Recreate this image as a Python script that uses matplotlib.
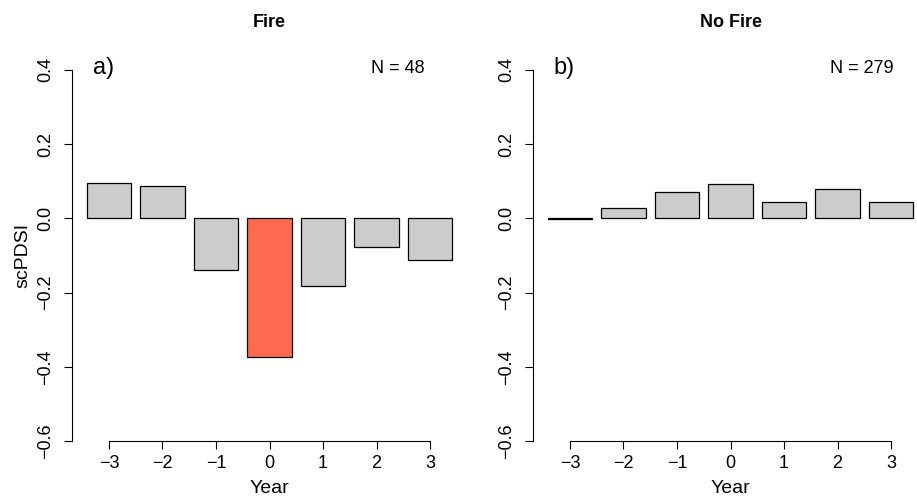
import matplotlib.pyplot as plt
import numpy as np

plt.rcParams["font.family"] = ["Liberation Sans", "DejaVu Sans"]

years = [-3, -2, -1, 0, 1, 2, 3]
fire = [0.096, 0.088, -0.138, -0.374, -0.181, -0.077, -0.112]
no_fire = [-0.002, 0.027, 0.071, 0.092, 0.043, 0.079, 0.043]
fire_colors = ["#cccccc", "#cccccc", "#cccccc", "#ff6b4f", "#cccccc", "#cccccc", "#cccccc"]
no_fire_colors = ["#cccccc"] * 7
titles = ["Fire", "No Fire"]
panel_labels = ["a)", "b)"]
n_labels = ["N = 48", "N = 279"]
n_x = [2.9, 3.04]
y_ticks = [-0.6, -0.4, -0.2, 0.0, 0.2, 0.4]

fig = plt.figure(figsize=(9.17, 4.98), dpi=100)
ax1 = fig.add_axes([72 / 917, 57 / 498, 395 / 917, 371 / 498])
ax2 = fig.add_axes([533 / 917, 57 / 498, 395 / 917, 371 / 498])

for i, (ax, vals, cols) in enumerate([(ax1, fire, fire_colors), (ax2, no_fire, no_fire_colors)]):
    ax.bar(years, vals, width=0.833, color=cols, edgecolor="black", linewidth=0.9)
    ax.set_xlim(-3.69, 3.69)
    ax.set_ylim(-0.6, 0.4)
    for s in ["top", "right"]:
        ax.spines[s].set_visible(False)
    ax.spines["bottom"].set_bounds(-3, 3)
    ax.spines["left"].set_bounds(-0.6, 0.4)
    ax.spines["left"].set_linewidth(0.8)
    ax.spines["bottom"].set_linewidth(0.8)
    ax.set_xticks(years)
    ax.set_xticklabels([str(y).replace("-", "\u2212") for y in years])
    ax.set_yticks(y_ticks)
    ax.set_yticklabels([f"{v:.1f}".replace("-", "\u2212") for v in y_ticks], rotation=90, va="center")
    ax.tick_params(axis="both", labelsize=13, length=6, width=0.8, direction="out")
    ax.tick_params(axis="x", pad=4)
    ax.tick_params(axis="y", pad=7)
    ax.set_xlabel("Year", fontsize=14, labelpad=6)
    ax.set_title(titles[i], fontsize=13, fontweight="bold", pad=31)
    ax.text(-3.3, 0.405, panel_labels[i], fontsize=17, ha="left", va="center", clip_on=False)
    ax.text(n_x[i], 0.405, n_labels[i], fontsize=13, ha="right", va="center", clip_on=False)

ax1.set_ylabel("scPDSI", fontsize=14, labelpad=4)

fig.savefig("out.png", dpi=100)
